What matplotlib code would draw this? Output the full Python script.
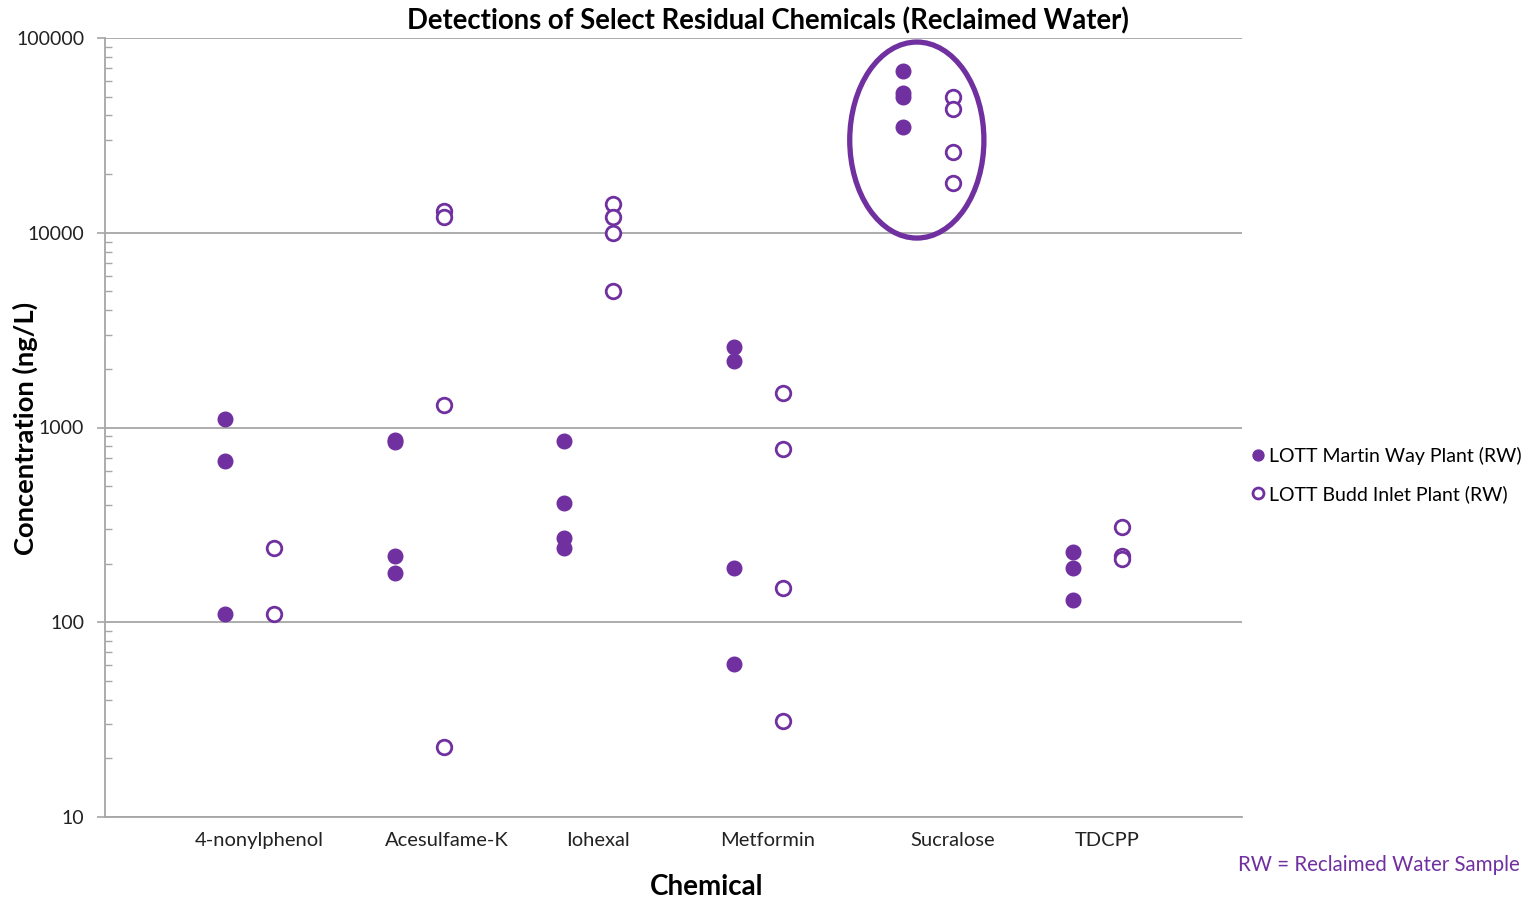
import matplotlib
matplotlib.use('Agg')
import matplotlib.pyplot as plt
from matplotlib.patches import Ellipse
from matplotlib.ticker import FuncFormatter, LogLocator
import matplotlib.transforms as mtransforms

plt.rcParams['font.family'] = ['Lato', 'DejaVu Sans']

# 数据
chemicals = ['4-nonylphenol', 'Acesulfame-K', 'Iohexal', 'Metformin', 'Sucralose', 'TDCPP']
martin_way = [
    [1100, 670, 110],
    [860, 840, 220, 180],
    [850, 410, 270, 240],
    [2600, 2200, 190, 61],
    [68000, 52000, 50000, 35000],
    [230, 190, 130],
]
budd_inlet = [
    [240, 110],
    [13000, 12000, 1300, 23],
    [14000, 12000, 10000, 5000],
    [1500, 780, 150, 31],
    [50000, 43000, 26000, 18000],
    [310, 220, 210],
]

purple = '#7030A0'
grey = '#A6A6A6'
budd_offset = 0.29
label_offsets = [0.2, 0.31, 0.2, 0.2, 0.29, 0.2]

fig = plt.figure(figsize=(15.22, 9.02), dpi=100)
ax = fig.add_axes([105 / 1522, 85 / 902, 1137 / 1522, 779 / 902])

# 画点
mx, my, bx, by = [], [], [], []
for i, (m, b) in enumerate(zip(martin_way, budd_inlet)):
    mx += [i + 1] * len(m)
    my += m
    bx += [i + 1 + budd_offset] * len(b)
    by += b

ax.plot(mx, my, 'o', ls='none', ms=10.5, color=purple, mec=purple,
        label='LOTT Martin Way Plant (RW)', zorder=3)
ax.plot(bx, by, 'o', ls='none', ms=10.5, mfc='white', mec=purple, mew=2,
        label='LOTT Budd Inlet Plant (RW)', zorder=3)

# 坐标轴
ax.set_yscale('log')
ax.set_ylim(10, 100000)
ax.set_xlim(0.292, 6.997)
ax.yaxis.set_major_formatter(FuncFormatter(lambda v, p: '%d' % round(v)))
ax.yaxis.set_minor_locator(LogLocator(base=10, subs=range(2, 10)))
ax.yaxis.set_minor_formatter(FuncFormatter(lambda v, p: ''))
ax.tick_params(axis='y', which='major', direction='out', length=6, width=1.2,
               color=grey, pad=9, labelsize=14, labelcolor='#222222')
ax.tick_params(axis='y', which='minor', direction='in', length=5, width=1,
               color=grey)
ax.set_xticks([])
ax.grid(axis='y', which='major', color=grey, lw=1.3)
for s in ['top', 'right']:
    ax.spines[s].set_visible(False)
for s in ['left', 'bottom']:
    ax.spines[s].set_color(grey)
    ax.spines[s].set_linewidth(1.3)

# 类别标签
trans = mtransforms.blended_transform_factory(ax.transData, ax.transAxes)
for i, (name, off) in enumerate(zip(chemicals, label_offsets)):
    ax.text(i + 1 + off, -0.03, name, transform=trans, ha='center', va='center',
            fontsize=14.5, color='#222222')

# 圈出 Sucralose
ax.add_patch(Ellipse((0.714, 0.869), 0.118, 0.2516, transform=ax.transAxes,
                     fill=False, ec=purple, lw=3.8, zorder=4, clip_on=False))

# 图例
ax.legend(loc='center left', bbox_to_anchor=(0.99, 0.439), frameon=False,
          fontsize=14, handletextpad=0.05, labelspacing=1.05, handlelength=1,
          markerscale=0.75)

fig.text(768 / 1522, 1 - 21 / 902, 'Detections of Select Residual Chemicals (Reclaimed Water)',
         ha='center', va='center', fontsize=19.8, fontweight='bold')
fig.text(25 / 1522, 1 - 428 / 902, 'Concentration (ng/L)', rotation=90,
         ha='center', va='center', fontsize=19.7, fontweight='bold')
fig.text(707 / 1522, 1 - 887 / 902, 'Chemical', ha='center', va='center',
         fontsize=20, fontweight='bold')
fig.text(1520 / 1522, 1 - 865 / 902, 'RW = Reclaimed Water Sample', ha='right',
         va='center', fontsize=14.8, color=purple)

plt.savefig('out.png', dpi=100)
